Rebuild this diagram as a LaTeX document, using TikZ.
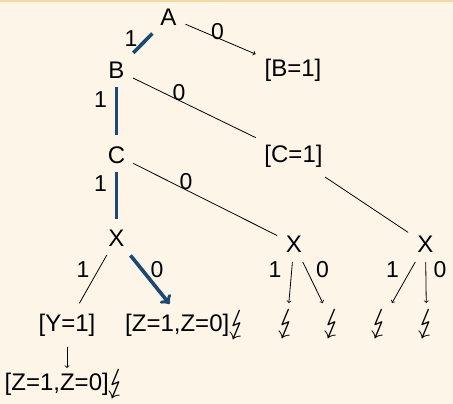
\documentclass[tikz,border=0pt]{standalone}
\usepackage{fontspec}
\setmainfont{Liberation Sans}
\usepackage{graphicx}
\usepackage{stmaryrd}
\definecolor{bgcream}{RGB}{253,245,232}
\definecolor{topband}{RGB}{246,216,160}
\definecolor{navy}{RGB}{27,73,115}
\newcommand{\bolt}{\raisebox{-2pt}{\scalebox{1.35}{$\lightning$}}}
\begin{document}
\begin{tikzpicture}[x=1pt,y=-1pt,
  txt/.style={font=\fontsize{24}{28}\selectfont, inner sep=0pt},
  lbl/.style={font=\fontsize{23}{27}\selectfont, inner sep=0pt},
  thinedge/.style={line width=0.8pt, draw=black},
  thinarrow/.style={thinedge, -{To[scale=1.4]}},
  thickedge/.style={line width=3.6pt, draw=navy}]
  \fill[bgcream] (0,0) rectangle (453,404);
  \fill[topband] (0,0) rectangle (453,2.5);
  \useasboundingbox (0,0) rectangle (453,404);
  % nodes
  \node[txt] (A) at (168.5,17) {A};
  \node[txt] (B) at (116.5,70) {B};
  \node[txt] (B1) at (293,70) {[B=1]};
  \node[txt] (C) at (116.5,155) {C};
  \node[txt] (C1) at (293.5,156) {[C=1]};
  \node[txt] (X1) at (116.5,238) {X};
  \node[txt] (X2) at (294,244) {X};
  \node[txt] (X3) at (425.5,244) {X};
  \node[txt] (Y1) at (67,325) {[Y=1]};
  \node[txt] (Z1) at (186.5,325) {[Z=1,Z=0]\kern-2pt\bolt};
  \node[txt] (Z2) at (66,384) {[Z=1,Z=0]\kern-2pt\bolt};
  \node[txt] (L1) at (287,324) {\bolt};
  \node[txt] (L2) at (333,324) {\bolt};
  \node[txt] (L3) at (380,324) {\bolt};
  \node[txt] (L4) at (426.5,324) {\bolt};
  % edges
  \draw[thickedge, shorten <=23pt, shorten >=24pt] (A.center) -- (B.center);
  \draw[thinarrow, shorten <=18.5pt, shorten >=40.7pt] (A.center) -- (B1.center);
  \draw[thickedge, shorten <=17pt, shorten >=20pt] (B.center) -- (C.center);
  \draw[thinedge, shorten <=18.3pt, shorten >=42pt] (B.center) -- (C1.center);
  \draw[thickedge, shorten <=17pt, shorten >=19pt] (C.center) -- (X1.center);
  \draw[thinedge, shorten <=18.8pt, shorten >=18.8pt] (C.center) -- (X2.center);
  \draw[thinedge, shorten <=38pt, shorten >=21pt] (C1.center) -- (X3.center);
  \draw[thinedge, shorten <=19.5pt, shorten >=25pt] (X1.center) -- (Y1.center);
  \draw[thickedge, -{To[scale=1.25]}, shorten <=22.3pt, shorten >=27pt] (X1.center) -- (Z1.center);
  \draw[thinarrow, shorten <=22pt, shorten >=16pt] (Y1.center) -- (Y1.center |- Z2.center);
  \draw[thinarrow, shorten <=18pt, shorten >=21pt] (X2.center) -- (L1.center);
  \draw[thinarrow, shorten <=20pt, shorten >=23.3pt] (X2.center) -- (L2.center);
  \draw[thinarrow, shorten <=20.6pt, shorten >=24.2pt] (X3.center) -- (L3.center);
  \draw[thinarrow, shorten <=18pt, shorten >=21pt] (X3.center) -- (L4.center);
  % labels
  \node[lbl] (lab1) at (131,39) {1};
  \node[lbl] (lab2) at (217.5,31.5) {0};
  \node[lbl] (lab3) at (100.5,99.5) {1};
  \node[lbl] (lab4) at (179,92.5) {0};
  \node[lbl] (lab5) at (100.5,183.5) {1};
  \node[lbl] (lab6) at (186,181.5) {0};
  \node[lbl] (lab7) at (83,270) {1};
  \node[lbl] (lab8) at (157,270) {0};
  \node[lbl] (lab9) at (275,270) {1};
  \node[lbl] (lab10) at (322.5,270) {0};
  \node[lbl] (lab11) at (392.5,270) {1};
  \node[lbl] (lab12) at (440,270) {0};
\end{tikzpicture}
\end{document}
